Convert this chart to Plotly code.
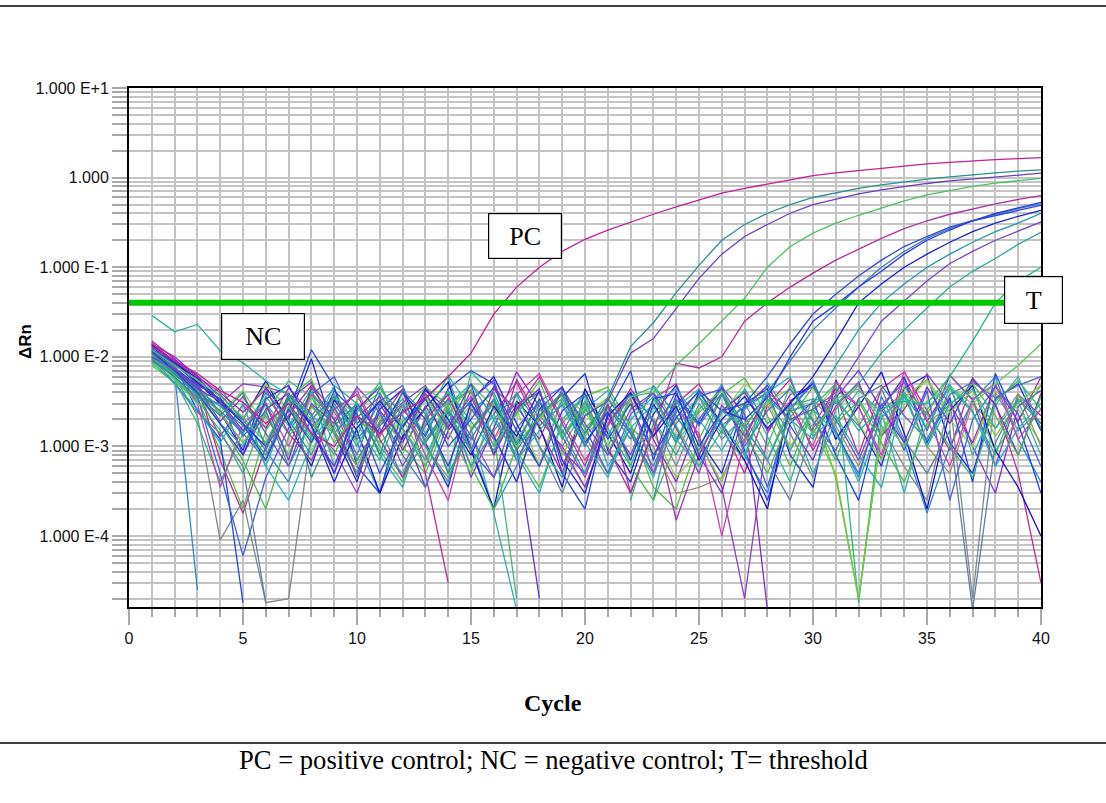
import plotly.graph_objects as go

# ---------------- data (ΔRn values in units of 1e-3) ----------------
cycles = list(range(1, 41))
threshold = 0.04

pc = [14, 9.0, 6.5, 4.2, 3.1, 1.8, 3.0, 1.4, 1.0, 2.2,
      1.4, 2.4, 3.5, 6.0, 11, 30, 60, 100, 150, 205,
      260, 320, 390, 470, 560, 670, 760, 850, 950, 1050,
      1130, 1200, 1270, 1340, 1420, 1480, 1540, 1590, 1630, 1670]

nc = [29, 19, 23, 11.7, 8.6, 5.4, 3.8, 2.2, 1.4, 3.0,
      1.0, 0.5, 1.8, 3.2, 0.9, 2.3, 0.7, 1.5, 3.1, 1.1,
      0.45, 2.0, 3.6, 1.2, 0.6, 2.5, 1.6, 4.0, 0.9, 2.6,
      1.4, 0.4, 2.1, 3.8, 1.0, 3.0, 4.4, 1.6, 3.2, 0.8]

amp_a = [11, 6.5, 3.8, 2.2, 4.0, 1.0, 3.6, 0.45, 1.7, 3.0,
         0.8, 4.2, 2.3, 0.5, 1.5, 3.4, 0.9, 2.2, 4.0, 1.4,
         3.5, 13, 24, 52, 105, 200, 300, 400, 500, 600,
         680, 760, 830, 900, 960, 1020, 1080, 1130, 1180, 1220]
amp_b = [10, 7.2, 4.4, 3.2, 1.5, 3.0, 0.7, 4.6, 2.0, 0.45,
         3.0, 1.1, 3.9, 1.6, 5.0, 0.8, 2.6, 4.4, 0.6, 2.2,
         3.2, 11, 16, 35, 75, 140, 220, 300, 400, 500,
         580, 660, 730, 800, 860, 920, 970, 1020, 1070, 1120]
amp_c = [12, 8.0, 5.5, 3.6, 2.1, 1.1, 3.6, 2.0, 0.8, 3.3,
         4.6, 1.6, 0.6, 2.9, 4.2, 1.0, 2.3, 5.4, 1.3, 3.0,
         1.0, 3.6, 4.0, 8.0, 14, 25, 45, 100, 170, 240,
         310, 380, 460, 550, 640, 720, 800, 870, 930, 980]
amp_d = [13, 9.0, 6.0, 4.0, 2.4, 4.4, 1.4, 0.7, 2.6, 3.8,
         1.2, 0.45, 2.0, 3.8, 0.9, 4.4, 2.6, 6.0, 1.8, 0.6,
         3.0, 0.3, 1.5, 8.5, 7.5, 10, 25, 40, 60, 86,
         120, 160, 210, 270, 330, 390, 450, 510, 570, 630]
amp_e = [11.5, 7.0, 4.0, 1.8, 0.8, 3.4, 4.8, 1.7, 0.5, 2.9,
         1.4, 4.0, 2.0, 0.6, 3.0, 1.3, 0.4, 2.6, 4.6, 1.1,
         2.4, 0.7, 3.4, 3.9, 1.0, 2.5, 2.0, 3.5, 10, 25,
         38, 60, 90, 140, 200, 260, 330, 400, 460, 530]
amp_f = [12, 8.4, 4.9, 3.4, 1.8, 0.7, 2.6, 1.1, 4.2, 2.3,
         0.5, 1.7, 3.4, 1.0, 2.0, 4.6, 1.5, 0.6, 2.5, 3.9,
         1.2, 3.0, 0.8, 2.1, 4.2, 2.5, 3.0, 6.0, 14, 30,
         50, 80, 120, 170, 220, 280, 330, 380, 430, 490]
amp_g = [9.2, 6.0, 3.5, 3.0, 1.3, 2.5, 0.6, 2.0, 3.6, 1.2,
         2.4, 0.8, 0.35, 1.9, 3.1, 0.8, 4.0, 1.7, 2.9, 1.0,
         3.4, 1.5, 0.6, 2.4, 4.0, 1.7, 2.8, 4.0, 9.0, 20,
         35, 60, 100, 150, 210, 270, 330, 390, 450, 510]
amp_h = [13.5, 8.6, 5.8, 3.2, 1.8, 1.0, 3.8, 1.7, 0.4, 1.6,
         3.2, 1.6, 4.4, 2.0, 0.8, 2.8, 1.3, 4.2, 0.7, 0.3,
         2.2, 4.0, 1.3, 2.8, 0.7, 2.0, 3.6, 1.6, 3.0, 6.0,
         15, 40, 65, 100, 140, 190, 250, 310, 370, 430]
amp_i = [10.8, 7.4, 4.6, 1.9, 3.6, 1.4, 0.6, 3.0, 1.8, 4.6,
         2.4, 0.6, 1.7, 3.4, 1.3, 0.45, 2.8, 1.2, 4.4, 1.8,
         0.8, 2.6, 4.0, 1.6, 0.5, 2.9, 1.3, 3.8, 2.0, 2.6,
         4.0, 10, 25, 42, 70, 110, 150, 200, 255, 320]
amp_j = [11.2, 7.6, 4.1, 2.5, 1.4, 4.0, 2.0, 0.8, 3.0, 1.3,
         4.5, 2.2, 1.0, 0.4, 2.5, 4.0, 1.1, 3.2, 1.5, 0.5,
         2.8, 1.2, 4.8, 2.2, 0.9, 3.8, 1.6, 0.7, 2.5, 3.0,
         8.0, 20, 40, 65, 100, 140, 190, 250, 310, 400]
amp_k = [9.6, 6.4, 3.9, 1.8, 1.0, 3.0, 1.4, 4.0, 2.0, 0.7,
         1.8, 3.4, 1.1, 2.6, 0.6, 2.0, 3.9, 1.0, 0.45, 2.6,
         1.3, 4.0, 2.0, 0.8, 3.0, 1.4, 4.4, 1.8, 2.8, 3.4,
         3.0, 5.0, 11, 20, 35, 60, 90, 125, 180, 245]
amp_l = [10.2, 6.9, 4.3, 2.8, 1.7, 0.8, 2.6, 1.2, 3.8, 1.8,
         0.7, 3.0, 1.4, 4.2, 1.9, 0.9, 2.4, 4.0, 1.2, 3.2,
         1.6, 0.6, 2.8, 1.1, 3.6, 1.8, 0.8, 3.4, 2.0, 1.2,
         3.6, 1.5, 2.6, 3.2, 3.0, 6.0, 15, 40, 70, 100]
amp_m = [8.6, 5.6, 3.0, 2.4, 1.1, 2.4, 0.8, 3.6, 1.7, 0.6,
         2.2, 1.1, 3.5, 1.5, 0.5, 2.8, 1.0, 2.1, 4.0, 1.3,
         2.5, 0.7, 3.4, 1.3, 2.6, 4.2, 1.6, 0.7, 2.9, 1.4,
         3.4, 4.4, 2.1, 1.0, 3.2, 4.6, 3.0, 5.0, 8.0, 14]
amp_n = [11.8, 7.3, 4.7, 3.8, 2.0, 0.9, 3.4, 1.7, 2.8, 0.8,
         3.9, 1.6, 0.6, 2.5, 1.2, 3.3, 0.7, 2.2, 3.8, 1.0,
         2.8, 1.4, 0.5, 3.4, 1.7, 3.9, 1.0, 2.5, 4.4, 1.9,
         0.9, 3.4, 4.8, 2.2, 1.2, 3.8, 5.2, 3.5, 4.8, 6.0]

nz01 = [12, 7.5, 4.8, 2.4, 0.9, 4.6, 2.0, 9.5, 1.4, 0.4,
        2.6, 4.3, 1.1, 0.35, 3.2, 6.0, 1.8, 0.6, 3.5, 6.5,
        0.9, 0.4, 2.3, 4.8, 1.2, 0.5, 3.0, 4.4, 0.8, 0.35,
        5.5, 1.8, 0.6, 4.5, 6.2, 1.1, 0.5, 3.4, 5.0, 1.5]
nz02 = [9.0, 6.5, 0.025, None, None, 0.9, 0.4, 2.2, 4.5, 1.1,
        0.3, 1.9, 3.4, 6.0, 1.0, 0.2, 0.6, 3.1, 1.4, 4.2,
        None, None, 0.25, 3.3, 1.8, 5.0, 0.8, 0.3, 2.6, 5.4,
        1.5, 0.45, 3.6, 1.1, 0.18, 1.0, 3.2, 6.0, 1.2, 0.4]
nz03 = [14, 10, 6.0, 3.0, 1.4, 0.7, 3.3, 5.2, 1.5, 0.5,
        2.5, 1.2, 4.2, 2.6, 0.45, 1.6, 6.8, 2.8, 0.9, 0.5,
        2.2, 3.9, 1.2, 0.4, 2.0, 4.6, 2.3, 0.015, None, 1.7,
        4.4, 2.8, 0.7, 5.8, 1.9, 4.8, 1.0, 0.3, 2.8, 4.2]
nz04 = [8.0, 5.2, 3.4, 0.9, 0.2, 1.5, 3.5, 5.6, 1.4, 2.6,
        4.0, 1.0, 0.5, 2.2, 5.0, 2.7, 0.9, 0.35, 1.8, 3.6,
        4.6, 1.7, 0.35, 0.2, 1.2, 3.8, 5.8, 2.2, 0.6, 2.7,
        0.45, 0.02, 1.4, 4.6, 2.3, 6.2, 3.4, 0.9, 2.0, 4.8]
nz05 = [15, 9.5, 5.0, 0.7, 0.18, 1.0, 2.2, 4.8, 2.5, 0.7,
        1.9, 4.4, 0.5, 0.03, None, 2.3, 5.2, 1.6, 0.5, 3.2,
        1.0, 0.3, 1.5, 3.0, 5.0, 1.7, 0.5, 2.9, 5.6, 1.4,
        3.8, 0.8, 4.4, 6.8, 2.5, 0.9, 5.5, 3.0, 0.5, 0.03]
nz06 = [10, 6.0, 2.2, 0.09, 0.25, 0.018, 0.02, 1.4, 3.4, 1.8,
        None, None, 1.1, 3.0, 4.3, 1.3, 0.4, 2.3, 0.9, 0.35,
        1.7, 3.9, 2.0, 0.6, 2.6, 4.2, 1.1, 3.3, 1.4, 0.45,
        2.6, 4.8, 1.7, 0.6, 0.25, 3.4, 0.02, 4.0, 1.5, 2.6]
nz07 = [11, 7.0, 4.0, 2.4, 4.2, 1.6, 3.2, 0.9, 2.5, 1.1,
        2.1, 0.8, 3.8, 1.5, 2.9, 1.2, 2.6, 0.6, 3.6, 2.4,
        1.0, 3.3, 1.4, 0.45, 0.9, 2.3, 5.0, 3.2, 1.0, 2.4,
        4.8, 1.8, 0.7, 3.0, 5.5, 2.0, 1.0, 4.2, 2.6, 1.1]
nz08 = [13, 8.0, 2.5, 1.2, 0.018, None, 2.4, 12, 4.6, 0.6,
        0.3, 2.6, 1.3, 4.4, 7.0, 5.0, 1.0, 3.4, 0.5, 0.2,
        2.4, 7.0, 0.7, 3.8, 1.8, 4.5, 0.9, 0.25, 1.8, 3.2,
        0.8, 0.25, 2.6, 6.0, 1.1, 3.5, 0.4, 6.5, 1.8, 0.3]
nz09 = [9.5, 5.8, 3.1, 4.6, 1.8, 0.6, 2.8, 1.3, 4.8, 3.0,
        0.8, 0.35, 2.2, 4.0, 1.6, 0.18, 0.015, None, 1.0, 2.6,
        4.2, 1.4, 0.45, 2.7, 4.4, 1.5, 0.7, 5.2, 2.2, 0.5,
        1.9, 4.2, 2.4, 0.3, 2.6, 5.0, 0.8, 2.9, 6.0, 1.6]
nz10 = [12, 9.0, 5.5, 3.0, 5.0, 4.6, 3.9, 1.8, 0.9, 0.3,
        1.7, 3.1, 4.8, 1.7, 3.6, 1.0, 3.0, 4.0, 1.3, 0.45,
        2.1, 0.8, 3.4, 5.0, 1.2, 0.35, 0.02, 1.4, 3.8, 4.6,
        2.0, 0.7, 2.9, 5.2, 1.5, 6.2, 3.3, 0.6, 3.8, 2.2]
nz11 = [8.5, 5.5, 1.8, 0.4, 1.4, 3.6, 1.7, 4.4, 0.6, 2.4,
        5.2, 1.3, 2.6, 0.5, 6.8, 3.6, 1.0, 2.2, 3.4, 1.2,
        None, 0.25, 1.8, 3.3, 0.8, 2.5, 4.2, 1.3, 0.4, 2.8,
        5.0, 0.018, 2.1, 3.6, 1.0, 4.5, 2.4, 0.8, 3.8, 1.8]
nz12 = [10, 7.0, 4.5, 2.3, 1.1, 2.2, 0.8, 2.9, 1.5, 0.6,
        1.9, 2.8, 1.0, 0.45, 1.5, 3.0, 0.7, 2.0, 3.8, 1.3,
        0.5, 1.6, 1.0, 0.3, 0.35, 0.45, 1.5, 2.9, 0.9, 3.4,
        1.7, 0.6, 2.5, 4.0, 1.0, 0.5, 3.0, 1.6, 3.9, 1.0]
nz13 = [14, 8.8, 5.2, 3.0, 2.0, 5.4, 1.8, 0.6, 3.3, 1.5,
        0.3, 1.3, 2.7, 5.2, 0.9, 0.2, 3.2, 1.7, 0.35, 4.4,
        1.4, 0.5, 3.0, 1.1, 4.0, 1.8, 0.7, 0.2, 3.2, 5.0,
        1.2, 2.8, 6.8, 1.4, 0.2, 2.5, 4.8, 0.9, 0.35, 0.1]
nz14 = [11, 6.8, 3.9, 1.3, 2.9, 1.6, 4.5, 2.3, 0.5, 2.1,
        3.6, 0.9, 2.8, 1.2, 4.2, 0.8, 5.6, 2.0, 1.0, 0.35,
        1.7, 4.4, 1.9, 0.15, 0.8, 2.5, 4.0, 1.5, 3.2, 0.9,
        2.8, 5.2, 1.3, 2.6, 6.4, 3.0, 1.1, 4.8, 1.9, 6.0]
nz15 = [9.0, 6.0, 3.3, 1.5, 0.5, 2.4, 5.4, 3.6, 1.1, 2.3,
        0.9, 0.4, 2.1, 6.2, 2.6, 1.4, 0.02, None, 1.2, 2.8,
        0.8, 3.6, 4.6, 1.7, 0.6, 1.5, 3.1, 1.0, 4.8, 2.0,
        0.7, 3.4, 1.3, 4.0, 2.3, 1.0, 0.45, 3.2, 5.4, 2.6]
nz16 = [12.5, 7.8, 3.6, 0.5, 0.06, 0.45, 1.6, 3.8, 6.0, 1.8,
        3.2, 4.8, 1.1, 2.4, 0.9, 0.45, 1.6, 3.2, 4.6, 1.6,
        0.5, 2.3, 3.9, 1.2, 3.6, 4.4, 1.7, 0.35, 2.6, 5.0,
        1.4, 0.5, 3.0, 0.9, 4.2, 0.25, 2.0, 4.6, 2.3, 0.6]
nz17 = [10.5, 6.2, 4.2, 3.3, 2.0, 5.0, 2.6, 1.4, 3.6, 2.2,
        1.1, 2.0, 0.7, 3.4, 1.6, 3.0, 1.2, 2.7, 0.8, 2.2,
        3.5, 1.7, 0.8, 2.1, 1.1, 0.4, 1.8, 3.2, 4.4, 1.6,
        0.5, 0.02, 1.5, 3.5, 5.6, 2.4, 4.2, 1.3, 3.1, 4.8]
nz18 = [9.8, 5.0, 2.4, 1.4, 0.6, 0.018, None, 2.0, 0.8, 3.0,
        1.6, 0.45, 1.2, 2.6, 0.6, 1.5, 3.1, 1.0, 0.3, 1.4,
        2.9, 1.4, 0.5, 1.8, 3.6, 1.2, 2.2, 0.7, 0.25, 1.6,
        3.2, 1.7, 4.4, 1.2, 0.5, 1.5, 0.015, 1.1, 3.4, 1.8]
nz19 = [13, 9.2, 6.2, 3.6, 0.8, 2.6, 3.9, 1.4, 0.6, 2.6,
        4.6, 1.6, 0.35, 1.5, 3.3, 5.5, 1.0, 0.02, None, None,
        1.8, 3.8, 1.3, 4.2, 0.8, 0.3, 2.7, 4.8, 1.7, 0.7,
        3.5, 7.0, 2.6, 1.1, 4.6, 1.8, 5.8, 2.9, 0.8, 3.9]
nz20 = [8.8, 5.0, 2.6, 1.1, 3.0, 0.6, 0.25, 1.1, 2.7, 1.0,
        3.2, 1.6, 0.7, 2.9, 5.0, 2.0, 0.8, 0.3, 2.0, 3.8,
        0.6, 1.6, 3.0, 4.4, 2.0, 0.9, 2.6, 4.0, 6.0, 1.3,
        2.2, 0.8, 0.35, 3.8, 1.6, 4.8, 2.5, 0.6, 1.6, 3.0]
nz21 = [14.5, 8.2, 3.0, 0.35, 1.8, 3.0, 1.0, 3.8, 2.0, 4.2,
        1.3, 3.0, 0.8, 0.25, 2.6, 1.2, 3.8, 6.5, 2.0, 0.7,
        1.8, 3.4, 0.5, 2.6, 1.4, 0.1, 1.2, 4.0, 2.6, 1.0,
        5.2, 2.8, 0.8, 7.0, 2.0, 0.6, 3.4, 5.0, 1.2, 2.6]
nz22 = [10, 6.6, 3.7, 1.8, 0.7, 0.2, 1.3, 2.8, 1.4, 0.5,
        1.4, 2.4, 4.6, 2.9, 0.6, 0.2, 1.0, 2.2, 3.9, 1.6,
        2.9, 0.6, 0.25, 1.1, 2.4, 3.8, 1.4, 0.5, 2.1, 4.6,
        1.8, 3.2, 1.1, 0.4, 1.8, 2.9, 5.0, 2.2, 0.8, 3.6]

noise_series = [
    (nz01, "#1a28e0"), (nz02, "#2a8ad0"), (nz03, "#8a2ad0"), (nz04, "#50c040"),
    (nz05, "#c02898"), (nz06, "#808890"), (nz07, "#90d050"), (nz08, "#2040f0"),
    (nz09, "#30b0a8"), (nz10, "#9040c8"), (nz11, "#20c080"), (nz12, "#a08c70"),
    (nz13, "#1010c8"), (nz14, "#a030b8"), (nz15, "#40b870"), (nz16, "#4060e0"),
    (nz17, "#7cc840"), (nz18, "#6080a0"), (nz19, "#6a30d8"), (nz20, "#20b0c0"),
    (nz21, "#d040b0"), (nz22, "#48b848"),
]
amp_series = [
    (amp_n, "#5070c0"), (amp_m, "#60c860"), (amp_l, "#20b890"), (amp_k, "#30a898"),
    (amp_j, "#2898a8"), (amp_i, "#7848c0"), (amp_h, "#1a20d8"), (amp_g, "#3a80b8"),
    (amp_f, "#3048d0"), (amp_e, "#2838e8"), (amp_d, "#b030a0"), (amp_c, "#50c060"),
    (amp_b, "#6a40c0"), (amp_a, "#2a9090"), (nc, "#30b0a0"), (pc, "#c0209a"),
]

for s, _ in noise_series + amp_series:
    assert len(s) == len(cycles)

y_tick_vals = [1e1, 1e0, 1e-1, 1e-2, 1e-3, 1e-4]
y_tick_text = ["1.000 E+1", "1.000", "1.000 E-1", "1.000 E-2", "1.000 E-3", "1.000 E-4"]
y_minor_vals = [k * 10.0 ** d for d in range(-5, 1) for k in range(2, 10)]
x_tick_vals = [0, 5, 10, 15, 20, 25, 30, 35, 40]

UNIT = 1e-3


def scale(arr):
    return [None if v is None else v * UNIT for v in arr]


fig = go.Figure()
for arr, col in noise_series + amp_series:
    fig.add_trace(go.Scatter(x=cycles, y=scale(arr), mode="lines",
                             line=dict(color=col, width=1.3),
                             connectgaps=False, hoverinfo="skip"))

fig.add_trace(go.Scatter(x=[0, 40], y=[threshold, threshold], mode="lines",
                         line=dict(color="#00c800", width=6), hoverinfo="skip"))

grid = "#c4c4c4"
tickc = "#a8a8a8"
tickfont = dict(family="Liberation Sans, Arial, sans-serif", size=16, color="#111111")

fig.update_layout(
    width=1106, height=803,
    margin=dict(l=129, r=65, t=88, b=196, autoexpand=False),
    paper_bgcolor="white", plot_bgcolor="white",
    showlegend=False,
    xaxis=dict(range=[0, 40], tickvals=x_tick_vals, ticks="outside", ticklen=16,
               tickwidth=1.5, tickcolor=tickc, showgrid=True, gridcolor=grid,
               gridwidth=1.5, showline=True, linecolor="black", linewidth=2,
               mirror=True, zeroline=False, tickfont=tickfont,
               minor=dict(dtick=1, ticks="outside", ticklen=8, tickwidth=1.5,
                          tickcolor=tickc, showgrid=True, gridcolor=grid, gridwidth=1.5)),
    yaxis=dict(type="log", range=[-4.792, 1], tickvals=y_tick_vals, ticktext=y_tick_text,
               ticks="outside", ticklen=15, tickwidth=1.5, tickcolor=tickc,
               showgrid=True, gridcolor=grid, gridwidth=1.5, showline=True,
               linecolor="black", linewidth=2, mirror=True, zeroline=False,
               tickfont=tickfont,
               minor=dict(tickvals=y_minor_vals, ticks="outside", ticklen=15,
                          tickwidth=1.5, tickcolor=tickc, showgrid=True,
                          gridcolor=grid, gridwidth=1.5)),
)

serif = "Liberation Serif, Times New Roman, serif"
box_common = dict(xref="paper", yref="paper", showarrow=False, bgcolor="white",
                  bordercolor="black", borderwidth=1.2, borderpad=0,
                  font=dict(family=serif, size=26, color="black"),
                  xanchor="center", yanchor="middle")
fig.add_annotation(text="PC", x=(525 - 129) / 912, y=(607 - 236) / 519,
                   width=72, height=44, **box_common)
fig.add_annotation(text="NC", x=(263 - 129) / 912, y=(607 - 336) / 519,
                   width=82, height=45, **box_common)
fig.add_annotation(text="T", x=(1033 - 129) / 912, y=(607 - 300) / 519,
                   width=57, height=46, **box_common)

fig.add_annotation(text="<b>ΔRn</b>", xref="paper", yref="paper",
                   x=(25 - 129) / 912, y=(607 - 342) / 519, textangle=-90,
                   showarrow=False, xanchor="center", yanchor="middle",
                   font=dict(family="Liberation Sans, Arial, sans-serif", size=17, color="black"))
fig.add_annotation(text="<b>Cycle</b>", xref="paper", yref="paper",
                   x=(553 - 129) / 912, y=(607 - 703) / 519, showarrow=False,
                   xanchor="center", yanchor="middle",
                   font=dict(family=serif, size=24, color="black"))
fig.add_annotation(text="PC = positive control; NC = negative control; T= threshold",
                   xref="paper", yref="paper",
                   x=(553 - 129) / 912, y=(607 - 760) / 519, showarrow=False,
                   xanchor="center", yanchor="middle",
                   font=dict(family=serif, size=26.6, color="black"))

for ypx in (6, 743):
    fig.add_shape(type="line", xref="paper", yref="paper",
                  x0=-129 / 912, x1=(1106 - 129) / 912,
                  y0=(607 - ypx) / 519, y1=(607 - ypx) / 519,
                  line=dict(color="black", width=1.5))

fig.write_html("out.html", config={"displayModeBar": False},
               post_script="document.body.style.margin='0';")
